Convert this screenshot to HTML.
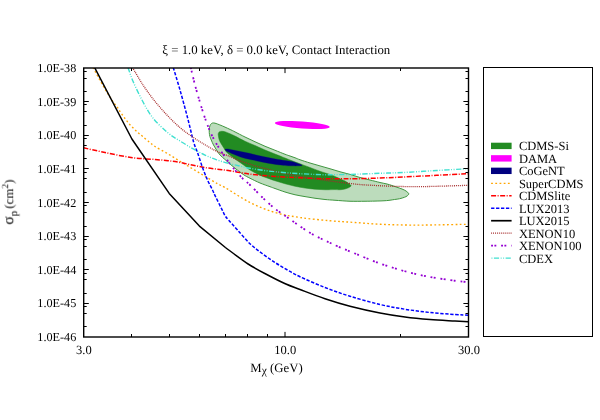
<!DOCTYPE html>
<html><head><meta charset="utf-8"><title>chart</title>
<style>html,body{margin:0;padding:0;background:#fff;}body{width:600px;height:420px;overflow:hidden;font-family:"Liberation Serif",serif;}svg{display:block;}</style></head>
<body>
<svg width="600" height="420" viewBox="0 0 600 420">
<rect width="600" height="420" fill="#fff"/>
<defs><clipPath id="c"><rect x="83.70" y="68.00" width="384.80" height="269.00"/></clipPath></defs>
<g clip-path="url(#c)" fill="none" stroke-linecap="butt" stroke-linejoin="round">
<path d="M209.25,132.50 C209.18,131.00 209.29,128.82 209.50,127.50 C209.71,126.18 210.00,125.35 210.50,124.60 C211.00,123.85 211.75,123.23 212.50,123.00 C213.25,122.77 214.17,123.03 215.00,123.20 C215.83,123.37 216.25,123.53 217.50,124.00 C218.75,124.47 220.83,125.29 222.50,126.00 C224.17,126.71 225.83,127.48 227.50,128.25 C229.17,129.02 231.25,129.99 232.50,130.60 C233.75,131.21 232.92,130.83 235.00,131.90 C237.08,132.97 241.67,135.36 245.00,137.00 C248.33,138.64 251.67,140.21 255.00,141.75 C258.33,143.29 261.67,144.83 265.00,146.25 C268.33,147.67 271.67,148.92 275.00,150.25 C278.33,151.58 282.50,153.29 285.00,154.25 C287.50,155.21 288.33,155.42 290.00,156.00 C291.67,156.58 293.33,157.12 295.00,157.75 C296.67,158.38 297.50,158.88 300.00,159.75 C302.50,160.62 306.67,161.97 310.00,163.00 C313.33,164.03 316.67,164.94 320.00,165.90 C323.33,166.86 326.67,167.78 330.00,168.75 C333.33,169.72 336.67,170.81 340.00,171.75 C343.33,172.69 346.67,173.44 350.00,174.40 C353.33,175.36 356.67,176.57 360.00,177.50 C363.33,178.43 366.67,179.17 370.00,180.00 C373.33,180.83 377.17,181.83 380.00,182.50 C382.83,183.17 385.00,183.50 387.00,184.00 C389.00,184.50 390.33,184.96 392.00,185.50 C393.67,186.04 395.33,186.67 397.00,187.25 C398.67,187.83 400.50,188.38 402.00,189.00 C403.50,189.62 404.88,190.21 406.00,191.00 C407.12,191.79 408.58,192.92 408.75,193.75 C408.92,194.58 407.71,195.42 407.00,196.00 C406.29,196.58 405.75,196.79 404.50,197.25 C403.25,197.71 401.17,198.38 399.50,198.75 C397.83,199.12 396.63,199.19 394.50,199.50 C392.37,199.81 389.95,200.33 386.70,200.60 C383.45,200.87 378.62,200.99 375.00,201.10 C371.38,201.21 369.17,201.22 365.00,201.25 C360.83,201.28 355.00,201.42 350.00,201.25 C345.00,201.08 339.17,200.54 335.00,200.25 C330.83,199.96 328.33,199.83 325.00,199.50 C321.67,199.17 318.33,198.73 315.00,198.25 C311.67,197.77 308.33,197.18 305.00,196.60 C301.67,196.02 298.33,195.52 295.00,194.75 C291.67,193.98 288.33,193.04 285.00,192.00 C281.67,190.96 277.50,189.38 275.00,188.50 C272.50,187.62 272.50,187.62 270.00,186.70 C267.50,185.78 263.33,184.41 260.00,183.00 C256.67,181.59 252.67,179.58 250.00,178.25 C247.33,176.92 245.67,176.04 244.00,175.00 C242.33,173.96 241.50,173.12 240.00,172.00 C238.50,170.88 236.67,169.58 235.00,168.25 C233.33,166.92 231.67,165.46 230.00,164.00 C228.33,162.54 226.67,161.00 225.00,159.50 C223.33,158.00 221.42,156.58 220.00,155.00 C218.58,153.42 217.58,151.67 216.50,150.00 C215.42,148.33 214.38,146.67 213.50,145.00 C212.62,143.33 211.85,141.42 211.25,140.00 C210.65,138.58 210.23,137.75 209.90,136.50 C209.57,135.25 209.32,134.00 209.25,132.50Z" fill="#bcdcbc" stroke="#3f953f" stroke-width="1"/>
<path d="M218.25,135.00 C218.12,133.83 218.29,133.53 218.50,133.00 C218.71,132.47 219.00,132.09 219.50,131.80 C220.00,131.51 220.58,131.26 221.50,131.25 C222.42,131.24 223.58,131.33 225.00,131.75 C226.42,132.17 228.33,133.03 230.00,133.75 C231.67,134.47 232.50,134.85 235.00,136.10 C237.50,137.35 241.67,139.68 245.00,141.25 C248.33,142.82 251.67,144.04 255.00,145.50 C258.33,146.96 261.67,148.58 265.00,150.00 C268.33,151.42 271.67,152.67 275.00,154.00 C278.33,155.33 282.50,157.00 285.00,158.00 C287.50,159.00 287.50,159.04 290.00,160.00 C292.50,160.96 296.67,162.50 300.00,163.75 C303.33,165.00 306.67,166.25 310.00,167.50 C313.33,168.75 316.67,170.08 320.00,171.25 C323.33,172.42 327.50,173.62 330.00,174.50 C332.50,175.38 333.33,175.79 335.00,176.50 C336.67,177.21 338.33,178.00 340.00,178.75 C341.67,179.50 343.67,180.29 345.00,181.00 C346.33,181.71 347.23,182.47 348.00,183.00 C348.77,183.53 349.10,183.74 349.60,184.20 C350.10,184.66 351.10,185.20 351.00,185.75 C350.90,186.30 350.00,186.96 349.00,187.50 C348.00,188.04 346.50,188.62 345.00,189.00 C343.50,189.38 341.67,189.65 340.00,189.75 C338.33,189.85 337.50,189.60 335.00,189.60 C332.50,189.60 328.33,189.81 325.00,189.75 C321.67,189.69 318.33,189.53 315.00,189.25 C311.67,188.97 308.33,188.60 305.00,188.10 C301.67,187.60 298.33,186.97 295.00,186.25 C291.67,185.53 288.33,184.67 285.00,183.75 C281.67,182.83 278.33,181.84 275.00,180.75 C271.67,179.66 267.50,178.12 265.00,177.20 C262.50,176.28 262.50,176.45 260.00,175.25 C257.50,174.05 252.50,171.54 250.00,170.00 C247.50,168.46 246.67,167.25 245.00,166.00 C243.33,164.75 241.67,163.67 240.00,162.50 C238.33,161.33 236.67,160.20 235.00,159.00 C233.33,157.80 231.50,156.55 230.00,155.30 C228.50,154.05 227.08,152.80 226.00,151.50 C224.92,150.20 224.33,148.83 223.50,147.50 C222.67,146.17 221.71,144.75 221.00,143.50 C220.29,142.25 219.71,141.42 219.25,140.00 C218.79,138.58 218.38,136.17 218.25,135.00Z" fill="#228b22" stroke="#228b22" stroke-width="0.5"/>
<ellipse cx="302.3" cy="125" rx="27.5" ry="3.5" transform="rotate(4.4 302.3 125)" fill="#ff00ff"/>
<path d="M225.00,149.40 C225.33,149.11 226.67,148.90 228.00,149.00 C229.33,149.10 231.33,149.67 233.00,150.00 C234.67,150.33 236.33,150.67 238.00,151.00 C239.67,151.33 241.33,151.67 243.00,152.00 C244.67,152.33 246.33,152.62 248.00,153.00 C249.67,153.38 250.50,153.67 253.00,154.25 C255.50,154.83 259.67,155.79 263.00,156.50 C266.33,157.21 269.67,157.88 273.00,158.50 C276.33,159.12 280.17,159.79 283.00,160.25 C285.83,160.71 288.00,160.89 290.00,161.25 C292.00,161.61 293.33,161.90 295.00,162.40 C296.67,162.90 298.83,163.78 300.00,164.25 C301.17,164.72 302.00,164.98 302.00,165.25 C302.00,165.52 302.00,165.75 300.00,165.85 C298.00,165.95 292.83,165.93 290.00,165.85 C287.17,165.77 285.83,165.66 283.00,165.35 C280.17,165.04 276.33,164.52 273.00,164.00 C269.67,163.48 266.33,162.90 263.00,162.25 C259.67,161.60 255.50,160.64 253.00,160.10 C250.50,159.56 249.67,159.39 248.00,159.00 C246.33,158.61 244.67,158.25 243.00,157.75 C241.33,157.25 239.67,156.62 238.00,156.00 C236.33,155.38 234.67,154.71 233.00,154.00 C231.33,153.29 229.17,152.29 228.00,151.75 C226.83,151.21 226.50,151.14 226.00,150.75 C225.50,150.36 224.67,149.69 225.00,149.40Z" fill="#000080" stroke="#000080" stroke-width="0.3"/>
<path d="M93.00,67.50 C94.75,70.67 100.33,81.03 103.50,86.50 C106.67,91.97 110.00,97.22 112.00,100.30 C114.00,103.38 114.50,103.68 115.50,105.00 C116.50,106.32 117.25,107.12 118.00,108.20 C118.75,109.28 119.25,110.37 120.00,111.50 C120.75,112.63 121.67,113.83 122.50,115.00 C123.33,116.17 124.17,117.37 125.00,118.50 C125.83,119.63 126.67,120.75 127.50,121.80 C128.33,122.85 129.08,123.80 130.00,124.80 C130.92,125.80 132.00,126.80 133.00,127.80 C134.00,128.80 135.00,129.85 136.00,130.80 C137.00,131.75 137.92,132.58 139.00,133.50 C140.08,134.42 141.00,135.05 142.50,136.30 C144.00,137.55 145.92,139.30 148.00,141.00 C150.08,142.70 151.75,144.40 155.00,146.50 C158.25,148.60 163.33,151.14 167.50,153.60 C171.67,156.06 175.83,158.72 180.00,161.25 C184.17,163.78 188.33,166.25 192.50,168.75 C196.67,171.25 200.83,173.75 205.00,176.25 C209.17,178.75 214.17,181.88 217.50,183.75 C220.83,185.62 219.58,184.38 225.00,187.50 C230.42,190.62 241.67,198.33 250.00,202.50 C258.33,206.67 266.67,210.00 275.00,212.50 C283.33,215.00 290.83,216.12 300.00,217.50 C309.17,218.88 320.83,219.92 330.00,220.75 C339.17,221.58 346.67,221.92 355.00,222.50 C363.33,223.08 371.67,223.83 380.00,224.25 C388.33,224.67 396.67,224.88 405.00,225.00 C413.33,225.12 419.42,225.12 430.00,225.00 C440.58,224.88 462.08,224.38 468.50,224.25" stroke="#ffa500" stroke-width="1.35" stroke-dasharray="1.8 2.4"/>
<path d="M83.50,147.80 C87.08,148.58 97.08,150.88 105.00,152.50 C112.92,154.12 122.67,156.33 131.00,157.50 C139.33,158.67 148.83,158.97 155.00,159.50 C161.17,160.03 163.83,160.20 168.00,160.70 C172.17,161.20 175.78,161.73 180.00,162.50 C184.22,163.27 189.13,164.45 193.30,165.30 C197.47,166.15 201.10,166.97 205.00,167.60 C208.90,168.23 212.82,168.62 216.70,169.10 C220.58,169.58 224.42,169.92 228.30,170.50 C232.18,171.08 236.38,172.00 240.00,172.60 C243.62,173.20 245.55,173.57 250.00,174.10 C254.45,174.63 261.15,175.32 266.70,175.80 C272.25,176.28 277.75,176.67 283.30,177.00 C288.85,177.33 293.33,177.50 300.00,177.80 C306.67,178.10 316.63,178.65 323.30,178.80 C329.97,178.95 334.43,178.72 340.00,178.70 C345.57,178.68 350.03,178.82 356.70,178.70 C363.37,178.58 372.23,178.28 380.00,178.00 C387.77,177.72 393.85,177.45 403.30,177.00 C412.75,176.55 425.83,175.85 436.70,175.30 C447.57,174.75 463.20,173.97 468.50,173.70" stroke="#ff0000" stroke-width="1.5" stroke-dasharray="5 1.5 1 1.55"/>
<path d="M173.25,67.50 C174.38,71.25 177.62,81.67 180.00,90.00 C182.38,98.33 185.21,108.75 187.50,117.50 C189.79,126.25 192.08,136.67 193.75,142.50 C195.42,148.33 196.04,148.33 197.50,152.50 C198.96,156.67 200.83,162.92 202.50,167.50 C204.17,172.08 205.83,176.25 207.50,180.00 C209.17,183.75 211.17,187.25 212.50,190.00 C213.83,192.75 214.00,193.40 215.50,196.50 C217.00,199.60 219.88,205.37 221.50,208.60 C223.12,211.83 223.95,213.90 225.20,215.90 C226.45,217.90 226.95,218.25 229.00,220.60 C231.05,222.95 234.00,226.14 237.50,230.00 C241.00,233.86 245.83,239.79 250.00,243.75 C254.17,247.71 258.33,250.62 262.50,253.75 C266.67,256.88 270.83,259.79 275.00,262.50 C279.17,265.21 283.33,267.62 287.50,270.00 C291.67,272.38 293.75,273.83 300.00,276.75 C306.25,279.67 316.67,284.25 325.00,287.50 C333.33,290.75 340.83,293.42 350.00,296.25 C359.17,299.08 370.83,302.33 380.00,304.50 C389.17,306.67 396.67,307.92 405.00,309.25 C413.33,310.58 421.67,311.62 430.00,312.50 C438.33,313.38 448.58,314.04 455.00,314.50 C461.42,314.96 466.25,315.12 468.50,315.25" stroke="#0000ff" stroke-width="1.5" stroke-dasharray="3.3 1.65"/>
<path d="M94.60,67.50 L131.90,139.00 L169.20,193.40 L199.40,226.10 L225.40,247.50 L225.40,247.50 C229.18,250.25 241.05,259.42 248.10,264.00 C255.15,268.58 261.50,271.71 267.70,275.00 C273.90,278.29 279.92,281.33 285.30,283.75 C290.68,286.17 293.38,287.00 300.00,289.50 C306.62,292.00 316.67,295.96 325.00,298.75 C333.33,301.54 340.83,303.88 350.00,306.25 C359.17,308.62 370.83,311.21 380.00,313.00 C389.17,314.79 396.67,315.92 405.00,317.00 C413.33,318.08 421.67,318.83 430.00,319.50 C438.33,320.17 448.58,320.62 455.00,321.00 C461.42,321.38 466.25,321.62 468.50,321.75" stroke="#000000" stroke-width="1.5"/>
<path d="M132.50,67.50 C134.25,70.42 139.25,79.35 143.00,85.00 C146.75,90.65 150.92,96.30 155.00,101.40 C159.08,106.50 163.33,111.23 167.50,115.60 C171.67,119.97 175.88,124.08 180.00,127.60 C184.12,131.12 188.03,133.83 192.20,136.70 C196.37,139.57 200.92,142.37 205.00,144.80 C209.08,147.23 212.82,149.45 216.70,151.30 C220.58,153.15 224.42,154.32 228.30,155.90 C232.18,157.48 236.38,159.42 240.00,160.80 C243.62,162.18 247.00,163.23 250.00,164.20 C253.00,165.17 255.22,165.82 258.00,166.60 C260.78,167.38 263.70,168.08 266.70,168.90 C269.70,169.72 272.12,170.57 276.00,171.50 C279.88,172.43 284.88,173.50 290.00,174.50 C295.12,175.50 301.15,176.58 306.70,177.50 C312.25,178.42 317.75,179.20 323.30,180.00 C328.85,180.80 334.43,181.60 340.00,182.30 C345.57,183.00 352.25,183.75 356.70,184.20 C361.15,184.65 360.60,184.65 366.70,185.00 C372.80,185.35 384.42,186.03 393.30,186.30 C402.18,186.57 412.22,186.62 420.00,186.60 C427.78,186.58 431.92,186.42 440.00,186.20 C448.08,185.98 463.75,185.45 468.50,185.30" stroke="#a52a2a" stroke-width="1.3" stroke-dasharray="0.95 1"/>
<path d="M190.75,67.50 C191.46,70.42 193.46,79.17 195.00,85.00 C196.54,90.83 198.47,97.37 200.00,102.50 C201.53,107.63 202.95,112.05 204.20,115.80 C205.45,119.55 206.25,121.80 207.50,125.00 C208.75,128.20 210.17,131.80 211.70,135.00 C213.23,138.20 214.90,141.15 216.70,144.20 C218.50,147.25 220.57,150.38 222.50,153.30 C224.43,156.22 226.22,158.92 228.30,161.70 C230.38,164.48 232.63,167.23 235.00,170.00 C237.37,172.77 240.00,175.80 242.50,178.30 C245.00,180.80 246.67,181.80 250.00,185.00 C253.33,188.20 258.33,193.54 262.50,197.50 C266.67,201.46 270.83,205.42 275.00,208.75 C279.17,212.08 283.33,214.58 287.50,217.50 C291.67,220.42 295.83,223.46 300.00,226.25 C304.17,229.04 308.33,231.88 312.50,234.25 C316.67,236.62 320.83,238.50 325.00,240.50 C329.17,242.50 332.50,244.08 337.50,246.25 C342.50,248.42 347.92,250.62 355.00,253.50 C362.08,256.38 371.67,260.54 380.00,263.50 C388.33,266.46 396.67,269.00 405.00,271.25 C413.33,273.50 421.67,275.42 430.00,277.00 C438.33,278.58 448.58,279.88 455.00,280.75 C461.42,281.62 466.25,281.96 468.50,282.20" stroke="#9400d3" stroke-width="1.8" stroke-dasharray="1.9 1.4 1.9 4.8"/>
<path d="M128.00,67.50 C128.83,69.79 130.67,75.83 133.00,81.25 C135.33,86.67 138.75,93.96 142.00,100.00 C145.25,106.04 148.25,112.08 152.50,117.50 C156.75,122.92 162.92,128.58 167.50,132.50 C172.08,136.42 175.70,138.27 180.00,141.00 C184.30,143.73 189.13,146.55 193.30,148.90 C197.47,151.25 201.10,153.28 205.00,155.10 C208.90,156.92 212.82,158.43 216.70,159.80 C220.58,161.17 224.42,162.25 228.30,163.30 C232.18,164.35 236.38,165.27 240.00,166.10 C243.62,166.93 245.55,167.52 250.00,168.30 C254.45,169.08 261.15,170.10 266.70,170.80 C272.25,171.50 277.75,172.02 283.30,172.50 C288.85,172.98 293.33,173.33 300.00,173.70 C306.67,174.07 316.63,174.55 323.30,174.70 C329.97,174.85 334.43,174.68 340.00,174.60 C345.57,174.52 350.03,174.42 356.70,174.20 C363.37,173.98 372.23,173.58 380.00,173.30 C387.77,173.02 393.85,172.97 403.30,172.50 C412.75,172.03 425.83,171.13 436.70,170.50 C447.57,169.87 463.20,169.00 468.50,168.70" stroke="#40e0d0" stroke-width="1.4" stroke-dasharray="5.2 1.6 0.9 1.6 0.9 1.5"/>
</g>
<g stroke="#000" stroke-width="1" fill="none">
<path d="M83.70,71.50h3.00 M468.50,71.50h-3.00"/>
<path d="M83.70,78.50h3.00 M468.50,78.50h-3.00"/>
<path d="M83.70,91.50h3.00 M468.50,91.50h-3.00"/>
<path d="M83.70,101.50h5.10 M468.50,101.50h-5.10"/>
<path d="M83.70,104.50h3.00 M468.50,104.50h-3.00"/>
<path d="M83.70,111.50h3.00 M468.50,111.50h-3.00"/>
<path d="M83.70,125.50h3.00 M468.50,125.50h-3.00"/>
<path d="M83.70,135.50h5.10 M468.50,135.50h-5.10"/>
<path d="M83.70,138.50h3.00 M468.50,138.50h-3.00"/>
<path d="M83.70,145.50h3.00 M468.50,145.50h-3.00"/>
<path d="M83.70,158.50h3.00 M468.50,158.50h-3.00"/>
<path d="M83.70,168.50h5.10 M468.50,168.50h-5.10"/>
<path d="M83.70,172.50h3.00 M468.50,172.50h-3.00"/>
<path d="M83.70,178.50h3.00 M468.50,178.50h-3.00"/>
<path d="M83.70,192.50h3.00 M468.50,192.50h-3.00"/>
<path d="M83.70,202.50h5.10 M468.50,202.50h-5.10"/>
<path d="M83.70,205.50h3.00 M468.50,205.50h-3.00"/>
<path d="M83.70,212.50h3.00 M468.50,212.50h-3.00"/>
<path d="M83.70,226.50h3.00 M468.50,226.50h-3.00"/>
<path d="M83.70,236.50h5.10 M468.50,236.50h-5.10"/>
<path d="M83.70,239.50h3.00 M468.50,239.50h-3.00"/>
<path d="M83.70,246.50h3.00 M468.50,246.50h-3.00"/>
<path d="M83.70,259.50h3.00 M468.50,259.50h-3.00"/>
<path d="M83.70,269.50h5.10 M468.50,269.50h-5.10"/>
<path d="M83.70,273.50h3.00 M468.50,273.50h-3.00"/>
<path d="M83.70,279.50h3.00 M468.50,279.50h-3.00"/>
<path d="M83.70,293.50h3.00 M468.50,293.50h-3.00"/>
<path d="M83.70,303.50h5.10 M468.50,303.50h-5.10"/>
<path d="M83.70,306.50h3.00 M468.50,306.50h-3.00"/>
<path d="M83.70,313.50h3.00 M468.50,313.50h-3.00"/>
<path d="M83.70,326.50h3.00 M468.50,326.50h-3.00"/>
<path d="M131.50,337.00v-3.00 M131.50,68.00v3.00"/>
<path d="M169.50,337.00v-3.00 M169.50,68.00v3.00"/>
<path d="M199.50,337.00v-3.00 M199.50,68.00v3.00"/>
<path d="M225.50,337.00v-3.00 M225.50,68.00v3.00"/>
<path d="M247.50,337.00v-3.00 M247.50,68.00v3.00"/>
<path d="M267.50,337.00v-3.00 M267.50,68.00v3.00"/>
<path d="M285.00,337.00v-5.10 M285.00,68.00v5.10"/>
<path d="M400.50,337.00v-3.00 M400.50,68.00v3.00"/>
</g>
<rect x="83.70" y="68.00" width="384.80" height="269.00" fill="none" stroke="#000" stroke-width="1.4"/>
<rect x="483.5" y="67.5" width="109" height="269" fill="none" stroke="#000" stroke-width="1"/>
<g font-family="'Liberation Serif', serif" font-size="12.8px" fill="#000" style="opacity:0.999" text-rendering="geometricPrecision">
<text x="276.3" y="53.8" text-anchor="middle">ξ = 1.0 keV, δ = 0.0 keV, Contact Interaction</text>
<text x="76.3" y="72.10" text-anchor="end" font-size="12.2px">1.0E-38</text>
<text x="76.3" y="105.72" text-anchor="end" font-size="12.2px">1.0E-39</text>
<text x="76.3" y="139.35" text-anchor="end" font-size="12.2px">1.0E-40</text>
<text x="76.3" y="172.97" text-anchor="end" font-size="12.2px">1.0E-41</text>
<text x="76.3" y="206.60" text-anchor="end" font-size="12.2px">1.0E-42</text>
<text x="76.3" y="240.22" text-anchor="end" font-size="12.2px">1.0E-43</text>
<text x="76.3" y="273.85" text-anchor="end" font-size="12.2px">1.0E-44</text>
<text x="76.3" y="307.48" text-anchor="end" font-size="12.2px">1.0E-45</text>
<text x="76.3" y="341.10" text-anchor="end" font-size="12.2px">1.0E-46</text>
<text x="83.90" y="354" text-anchor="middle" font-size="12.5px">3.0</text>
<text x="285.20" y="354" text-anchor="middle" font-size="12.5px">10.0</text>
<text x="469.00" y="354" text-anchor="middle" font-size="12.5px">30.0</text>
<text x="250.3" y="371.5">M<tspan font-size="11.5px" dy="2.6">χ</tspan><tspan dy="-2.6"> (GeV)</tspan></text>
<text transform="translate(13.2 224.6) rotate(-90)"><tspan font-size="15.5px">σ</tspan><tspan font-size="11px" dy="4.4">p</tspan><tspan dy="-4.4" dx="2.2">(cm</tspan><tspan font-size="9.5px" dy="-5">2</tspan><tspan dy="5">)</tspan></text>
<text x="518.9" y="150.30" font-size="12.5px">CDMS-Si</text>
<text x="518.9" y="162.82" font-size="12.5px">DAMA</text>
<text x="518.9" y="175.34" font-size="12.5px">CoGeNT</text>
<text x="518.9" y="187.86" font-size="12.5px">SuperCDMS</text>
<text x="518.9" y="200.38" font-size="12.5px">CDMSlite</text>
<text x="518.9" y="212.90" font-size="12.5px">LUX2013</text>
<text x="518.9" y="225.42" font-size="12.5px">LUX2015</text>
<text x="518.9" y="237.94" font-size="12.5px">XENON10</text>
<text x="518.9" y="250.46" font-size="12.5px">XENON100</text>
<text x="518.9" y="262.98" font-size="12.5px">CDEX</text>
</g>
<rect x="491" y="142.70" width="20.6" height="6.4" fill="#228b22"/>
<rect x="491" y="155.17" width="20.6" height="6.4" fill="#ff00ff"/>
<rect x="491" y="167.64" width="20.6" height="6.4" fill="#000080"/>
<path d="M491.1,183.31H511.6" stroke="#ffa500" stroke-width="1.35" stroke-dasharray="1.8 2.4" fill="none"/>
<path d="M491.1,195.78H511.6" stroke="#ff0000" stroke-width="1.5" stroke-dasharray="5 1.5 1 1.55" fill="none"/>
<path d="M491.1,208.25H511.6" stroke="#0000ff" stroke-width="1.5" stroke-dasharray="3.3 1.65" fill="none"/>
<path d="M491.1,220.72H511.6" stroke="#000000" stroke-width="1.7" fill="none"/>
<path d="M491.1,233.19H511.6" stroke="#a52a2a" stroke-width="1.3" stroke-dasharray="0.95 1" fill="none"/>
<path d="M491.1,245.66H511.6" stroke="#9400d3" stroke-width="1.8" stroke-dasharray="1.9 1.4 1.9 4.8" fill="none"/>
<path d="M491.1,258.13H511.6" stroke="#40e0d0" stroke-width="1.4" stroke-dasharray="5.2 1.6 0.9 1.6 0.9 1.5" stroke-dashoffset="8.9" fill="none"/>
</svg>
</body></html>
